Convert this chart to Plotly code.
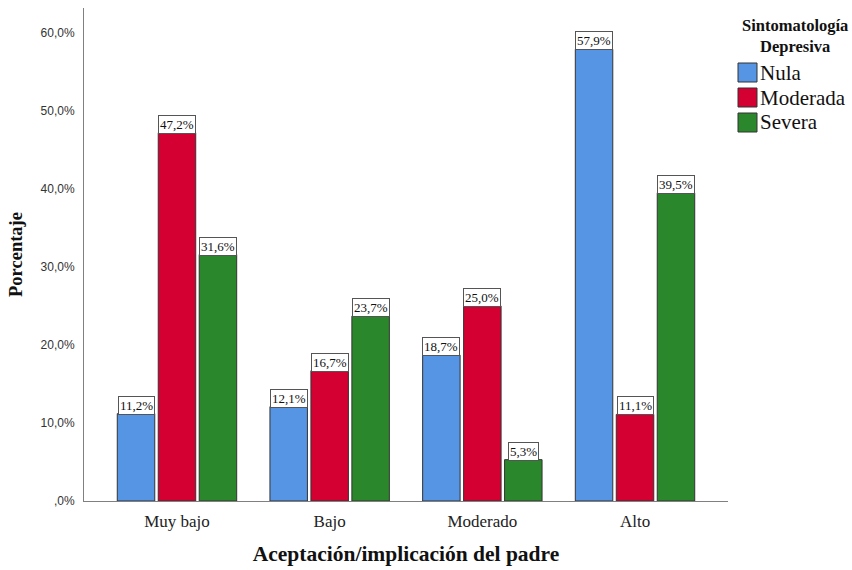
import plotly.graph_objects as go

# Porcentaje de sintomatología depresiva por nivel de aceptación/implicación del padre
categorias = ["Muy bajo", "Bajo", "Moderado", "Alto"]
series = ["Nula", "Moderada", "Severa"]
nula = [11.2, 12.1, 18.7, 57.9]
moderada = [47.2, 16.7, 25.0, 11.1]
severa = [31.6, 23.7, 5.3, 39.5]
valores = [nula, moderada, severa]
colores = ["#5694E4", "#D50032", "#2A872B"]

ticks_y = [0, 10, 20, 30, 40, 50, 60]
ticks_y_txt = [",0%", "10,0%", "20,0%", "30,0%", "40,0%", "50,0%", "60,0%"]

serif = "Liberation Serif, Times New Roman, serif"
sans = "Liberation Sans, Arial, sans-serif"

W, H = 852, 570
ML, MR, MT, MB = 84, 124, 8, 69
BARGAP = 0.195
GROUPGAP = 0.085

fig = go.Figure()
for nombre, vals, color in zip(series, valores, colores):
    fig.add_trace(go.Bar(
        name=nombre, x=categorias, y=vals,
        marker=dict(color=color, line=dict(color="#333333", width=1)),
    ))

# Etiquetas de valor en recuadro blanco sobre cada barra
slot = (1 - BARGAP) / len(series)
for j, vals in enumerate(valores):
    offset = (j - (len(series) - 1) / 2) * slot
    for i, v in enumerate(vals):
        fig.add_annotation(
            x=i + offset, y=v, xref="x", yref="y",
            text=f"{v:.1f}%".replace(".", ","),
            showarrow=False, yanchor="bottom", xanchor="center",
            font=dict(family=serif, size=13, color="#111111"),
            bgcolor="white", bordercolor="#555555", borderwidth=1, borderpad=1,
            yshift=-1,
        )

# Leyenda dibujada a mano a la derecha del área de trazado
pw, ph = W - ML - MR, H - MT - MB


def px_x(px):
    return (px - ML) / pw


def px_y(py):
    return (H - MB - py) / ph


fig.add_annotation(x=px_x(795), y=px_y(36), xref="paper", yref="paper",
                   text="<b>Sintomatología<br>Depresiva</b>", showarrow=False,
                   xanchor="center", yanchor="middle", align="center",
                   font=dict(family=serif, size=16.5, color="#111111"))

sw_left, sw_size, first_top, pitch = 738, 19, 63, 25
for k, (nombre, color) in enumerate(zip(series, colores)):
    top = first_top + k * pitch
    fig.add_shape(type="rect", xref="paper", yref="paper",
                  x0=px_x(sw_left), x1=px_x(sw_left + sw_size),
                  y0=px_y(top + sw_size), y1=px_y(top),
                  fillcolor=color, line=dict(color="#333333", width=1))
    fig.add_annotation(x=px_x(sw_left + sw_size + 1), y=px_y(top + sw_size / 2),
                       xref="paper", yref="paper", text=nombre, showarrow=False,
                       xanchor="left", yanchor="middle",
                       font=dict(family=serif, size=21, color="#111111"))

fig.update_layout(
    width=W, height=H,
    margin=dict(l=ML, r=MR, t=MT, b=MB, autoexpand=False),
    plot_bgcolor="white", paper_bgcolor="white",
    barmode="group", bargap=BARGAP, bargroupgap=GROUPGAP,
    showlegend=False,
    xaxis=dict(
        type="category", range=[-0.609, 3.609],
        showline=True, linecolor="#808080", linewidth=1,
        ticks="", ticklabelstandoff=5,
        tickfont=dict(family=serif, size=17, color="#222222"),
        title=dict(text="<b>Aceptación/implicación del padre</b>",
                   font=dict(family=serif, size=21.5, color="#111111"), standoff=15),
        showgrid=False, zeroline=False,
    ),
    yaxis=dict(
        range=[0, 63.2],
        tickvals=ticks_y, ticktext=ticks_y_txt,
        showline=True, linecolor="#808080", linewidth=1,
        ticks="", ticklabelstandoff=6,
        tickfont=dict(family=sans, size=12, color="#333333"),
        title=dict(text="<b>Porcentaje</b>",
                   font=dict(family=serif, size=18.5, color="#111111"), standoff=13),
        showgrid=False, zeroline=False,
    ),
)

fig.write_html("out.html")
